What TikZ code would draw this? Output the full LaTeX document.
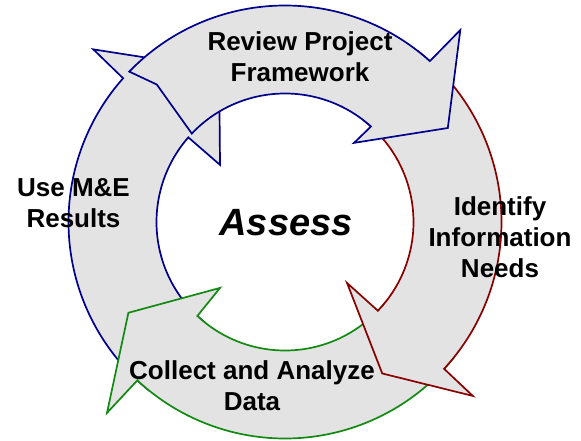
\documentclass[tikz,border=0pt]{standalone}
\usepackage{fontspec}
\setmainfont{Liberation Sans}
\usetikzlibrary{calc}
\definecolor{ringfill}{HTML}{E3E3E3}
\definecolor{navyline}{HTML}{00008C}
\definecolor{redline}{HTML}{880000}
\definecolor{greenline}{HTML}{128A12}
\begin{document}
\begin{tikzpicture}[x=1pt,y=1pt,
  arrowshape/.style={fill=ringfill, line width=1.7pt, line join=miter},
  lbl/.style={font=\fontsize{26}{31}\selectfont\bfseries, align=center, inner sep=0pt, anchor=north}]
\useasboundingbox (0,0) rectangle (581,440);
\coordinate (C) at (285,218);
\def\Ro{216.5}
\def\Ri{128.5}
% Use M&E Results (left, blue)
\draw[arrowshape, draw=navyline] ($(C)+(231:\Ro)$) -- ($(C)+(228:172)$) -- ($(C)+(231:\Ri)$)
  arc[start angle=231, end angle=138.8, radius=\Ri]
  -- ($(C)+(138.7:86.5)$) -- ($(C)+(113.3:166.6)$) -- ($(C)+(138:258)$) -- ($(C)+(138.4:\Ro)$)
  arc[start angle=138.4, end angle=231, radius=\Ro] -- cycle;
% Collect and Analyze Data (bottom, green)
\draw[arrowshape, draw=greenline] ($(C)+(-39:\Ro)$) -- ($(C)+(-42:172)$) -- ($(C)+(-39:\Ri)$)
  arc[start angle=-39, end angle=-133, radius=\Ri]
  -- ($(C)+(-134.6:92.6)$) -- ($(C)+(-149.9:181)$) -- ($(C)+(-133:261)$) -- ($(C)+(-133:\Ro)$)
  arc[start angle=-133, end angle=-39, radius=\Ro] -- cycle;
% Identify Information Needs (right, red)
\draw[arrowshape, draw=redline] ($(C)+(52:\Ro)$) -- ($(C)+(49:172)$) -- ($(C)+(52:\Ri)$)
  arc[start angle=52, end angle=-43.7, radius=\Ri]
  -- ($(C)+(-44.5:87)$) -- ($(C)+(-57.3:180)$) -- ($(C)+(-42.8:256)$) -- ($(C)+(-42.7:\Ro)$)
  arc[start angle=-42.7, end angle=52, radius=\Ro] -- cycle;
% Review Project Framework (top, blue)
\draw[arrowshape, draw=navyline] ($(C)+(136:\Ro)$) -- ($(C)+(133:188)$) -- ($(C)+(136.5:\Ri)$)
  arc[start angle=136.5, end angle=48, radius=\Ri]
  -- ($(C)+(48.9:105)$) -- ($(C)+(30:188)$) -- ($(C)+(47.6:260)$) -- ($(C)+(48:\Ro)$)
  arc[start angle=48, end angle=136, radius=\Ro] -- cycle;
% labels
\node[lbl] (review) at (300,408.5) {Review Project\\Framework};
\node[lbl] (use) at (73.5,262) {Use M\&E\\Results};
\node[lbl] (identify) at (500,244) {Identify\\Information\\Needs};
\node[lbl] (collect) at (252,80) {Collect and Analyze\\Data};
\node[font=\fontsize{38}{44}\selectfont\bfseries\itshape, inner sep=0pt, anchor=base] (assess) at (286,205) {Assess};
\end{tikzpicture}
\end{document}
